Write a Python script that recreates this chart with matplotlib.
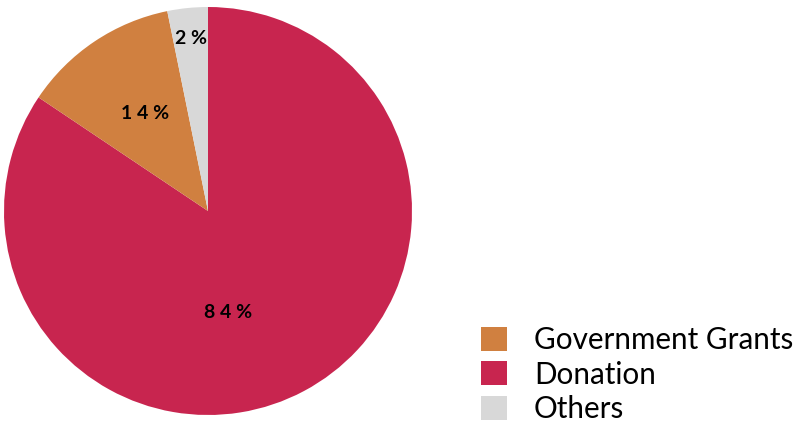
import numpy as np
import matplotlib.pyplot as plt
from matplotlib.patches import Patch

categories = ['Donation', 'Government Grants', 'Others']
values = [84.4, 12.4, 3.2]
pct_labels = ['8 4 %', '1 4 %', '2 %']
colors = ['#C8254F', '#D08040', '#D8D8D8']
legend_order = ['Government Grants', 'Donation', 'Others']

plt.rcParams['font.family'] = ['Lato', 'DejaVu Sans']

fig = plt.figure(figsize=(7.99, 4.23), dpi=100)
ax = fig.add_axes([4 / 799, 7 / 423, 408 / 799, 410 / 423])
wedges, _ = ax.pie(values, colors=colors, startangle=90, counterclock=False,
                   radius=1.0)
ax.set_xlim(-1, 1)
ax.set_ylim(-1, 1)
ax.set_aspect('equal')

# label spots (fraction of radius), picked by eye
label_pos = [(0.10, -0.50), (-0.31, 0.48), (-0.085, 0.845)]
for txt, (x, y) in zip(pct_labels, label_pos):
    ax.text(x, y, txt, ha='center', va='center', fontsize=14,
            fontweight='bold', color='black')

handles = [Patch(facecolor=colors[categories.index(c)], edgecolor='none')
           for c in legend_order]
fig.legend(handles, legend_order, loc='lower right',
           bbox_to_anchor=(1.026, -0.063), frameon=False, fontsize=21.3,
           handlelength=0.88, handleheight=0.88, handletextpad=0.9,
           labelspacing=0.22)

fig.savefig('out.png', dpi=100)
